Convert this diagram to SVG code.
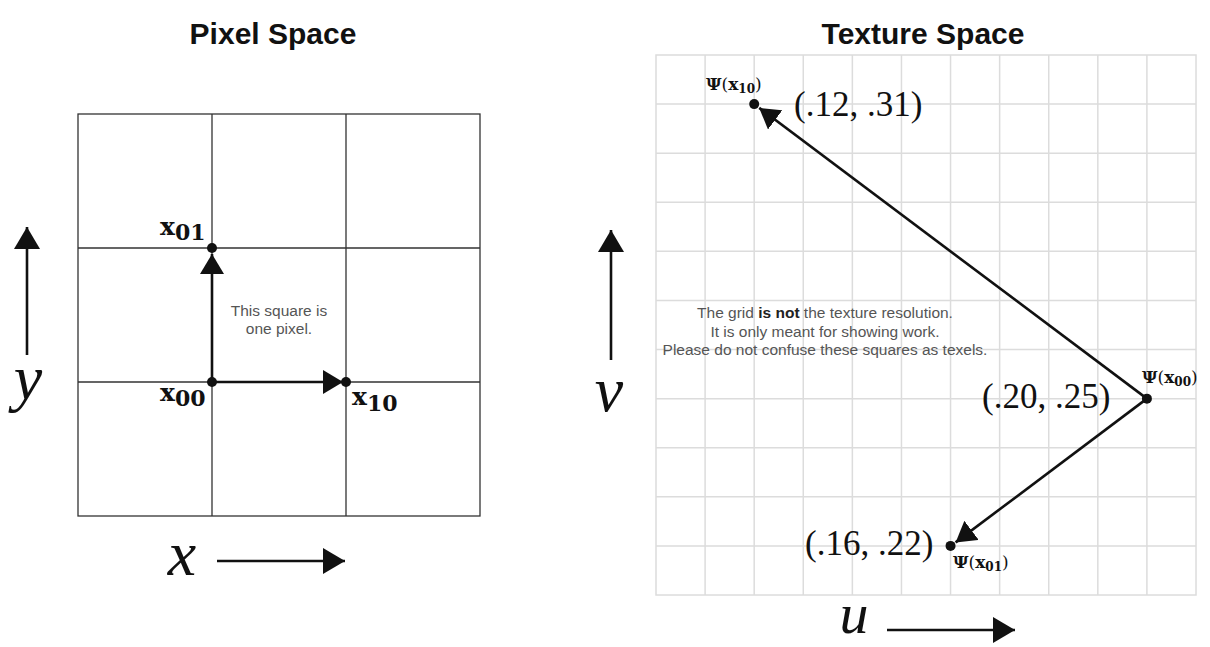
<svg xmlns="http://www.w3.org/2000/svg" width="1210" height="647" viewBox="0 0 1210 647">
<style>
.title{font-family:"Liberation Sans",Arial,sans-serif;font-weight:bold;font-size:30px;fill:#111;text-anchor:middle}
.note{font-family:"Liberation Sans",Arial,sans-serif;font-size:15.5px;fill:#555;text-anchor:middle}
.note tspan.b{font-weight:bold;fill:#222}
.ax{font-family:"Liberation Serif","Times New Roman",serif;font-style:italic;font-size:64px;fill:#111;text-anchor:middle}
.bx{font-family:"DejaVu Serif",serif;font-weight:bold;font-size:25px;fill:#111}
.bx tspan{font-size:22px}
.psi{font-family:"DejaVu Serif",serif;font-size:17px;fill:#111}
.psi .b{font-weight:bold}
.psi .s{font-weight:bold;font-size:12px}
.co{font-family:"Liberation Serif","Times New Roman",serif;font-size:35px;fill:#111}
.pgrid{fill:none;stroke:#333;stroke-width:1.3}
.tgrid{fill:none;stroke:#dcdcdc;stroke-width:1.5}
.arr{stroke:#111;stroke-width:2.6;fill:none;marker-end:url(#ah)}
.axarr{stroke:#111;stroke-width:2.6;fill:none;marker-end:url(#ah2)}
.dot{fill:#111}
</style>
<defs>
<marker id="ah" viewBox="0 0 20 24" markerWidth="20" markerHeight="24" refX="20" refY="12" orient="auto" markerUnits="userSpaceOnUse">
<path d="M0,0 L20,12 L0,24 z" fill="#111"/>
</marker>
<marker id="ah2" viewBox="0 0 22 26" markerWidth="22" markerHeight="26" refX="22" refY="13" orient="auto" markerUnits="userSpaceOnUse">
<path d="M0,0 L22,13 L0,26 z" fill="#111"/>
</marker>
</defs>
<rect width="1210" height="647" fill="#fff"/>

<text class="title" x="273" y="44">Pixel Space</text>
<text class="title" x="923" y="44">Texture Space</text>

<g id="pixel-grid">
<rect class="pgrid" x="78" y="114" width="402" height="402"/>
<path class="pgrid" d="M212,114V516M346,114V516M78,248H480M78,382H480"/>
</g>

<g id="texture-grid">
<rect class="tgrid" x="656" y="55" width="540" height="540"/>
<path class="tgrid" d="M705.09,55V595M754.18,55V595M803.27,55V595M852.36,55V595M901.45,55V595M950.55,55V595M999.64,55V595M1048.73,55V595M1097.82,55V595M1146.91,55V595M656,104.09H1196M656,153.18H1196M656,202.27H1196M656,251.36H1196M656,300.45H1196M656,349.55H1196M656,398.64H1196M656,447.73H1196M656,496.82H1196M656,545.91H1196"/>
</g>

<g id="connectors">
<line class="arr" x1="212" y1="382" x2="212" y2="254"/>
<line class="arr" x1="212" y1="382" x2="343" y2="382"/>
<line class="arr" x1="1146.91" y1="398.64" x2="759.2" y2="107.9"/>
<line class="arr" x1="1146.91" y1="398.64" x2="955.6" y2="542.4"/>
<line class="axarr" x1="27" y1="355" x2="27" y2="227"/>
<line class="axarr" x1="217" y1="561" x2="345" y2="561"/>
<line class="axarr" x1="611" y1="360" x2="611" y2="230"/>
<line class="axarr" x1="887" y1="630" x2="1015" y2="630"/>
</g>

<g id="x00">
<circle class="dot" cx="212" cy="382" r="5"/>
<text class="bx" x="160" y="401">x<tspan dy="5">00</tspan></text>
</g>
<g id="x01">
<circle class="dot" cx="212" cy="248" r="5"/>
<text class="bx" x="160" y="235">x<tspan dy="5">01</tspan></text>
</g>
<g id="x10">
<circle class="dot" cx="346" cy="382" r="5"/>
<text class="bx" x="352" y="405">x<tspan dy="6">10</tspan></text>
</g>

<g id="pixel-note">
<text class="note" x="279" y="316">This square is</text>
<text class="note" x="279" y="334">one pixel.</text>
</g>

<g id="psi-x00">
<circle class="dot" cx="1146.91" cy="398.64" r="5"/>
<text class="psi" x="1142" y="383"><tspan class="b">Ψ</tspan>(<tspan class="b">x</tspan><tspan class="s" dy="3">00</tspan><tspan dy="-3">)</tspan></text>
<text class="co" x="982" y="408">(.20, .25)</text>
</g>
<g id="psi-x10">
<circle class="dot" cx="754.18" cy="104.09" r="5"/>
<text class="psi" x="706" y="90"><tspan class="b">Ψ</tspan>(<tspan class="b">x</tspan><tspan class="s" dy="3">10</tspan><tspan dy="-3">)</tspan></text>
<text class="co" x="794" y="116">(.12, .31)</text>
</g>
<g id="psi-x01">
<circle class="dot" cx="950.55" cy="545.91" r="5"/>
<text class="psi" x="953" y="568"><tspan class="b">Ψ</tspan>(<tspan class="b">x</tspan><tspan class="s" dy="3">01</tspan><tspan dy="-3">)</tspan></text>
<text class="co" x="805" y="555">(.16, .22)</text>
</g>

<g id="texture-note">
<text class="note" x="825" y="318">The grid <tspan class="b">is not</tspan> the texture resolution.</text>
<text class="note" x="825" y="337">It is only meant for showing work.</text>
<text class="note" x="825" y="355">Please do not confuse these squares as texels.</text>
</g>

<g id="axis-labels">
<text class="ax" x="28" y="399">y</text>
<text class="ax" x="182" y="575">x</text>
<text class="ax" x="609" y="411">v</text>
<text class="ax" x="854" y="633" style="font-size:58px">u</text>
</g>
</svg>
